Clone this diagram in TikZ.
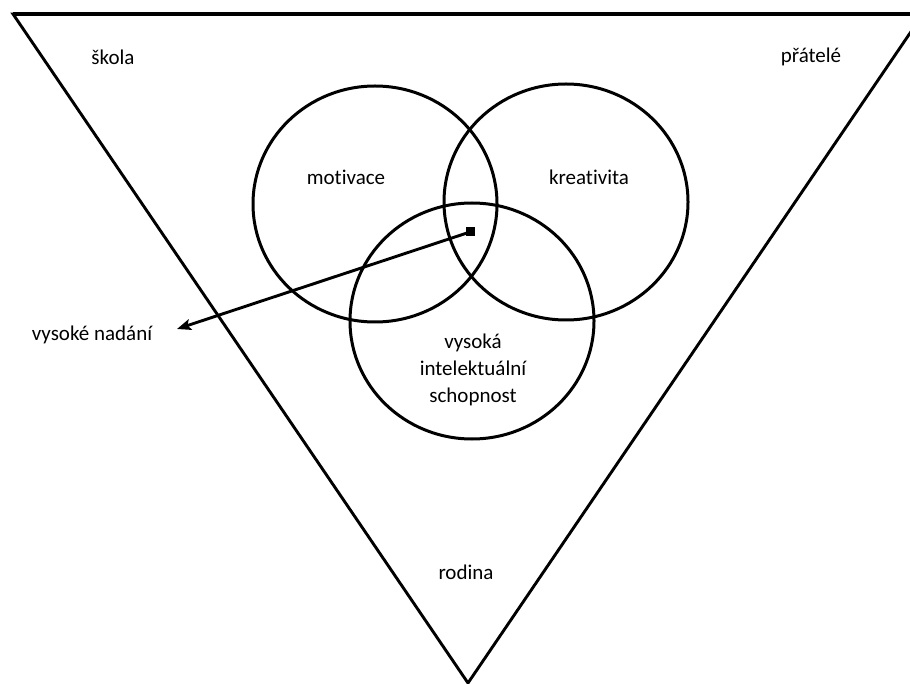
\documentclass[tikz,border=0pt]{standalone}
\usepackage{fontspec}
\setmainfont{Carlito}[Ligatures={NoCommon}]
\usetikzlibrary{shapes.geometric,arrows.meta}
\begin{document}
\begin{tikzpicture}[x=1pt,y=-1pt,
  ring/.style={draw, ellipse, minimum width=244pt, minimum height=236pt, inner sep=0pt, line width=3pt},
  lbl/.style={font=\fontsize{21}{27}\selectfont, text=black, inner sep=0pt, align=center},
  edge/.style={line width=2.9pt}]
\useasboundingbox (0,0) rectangle (910,684);
\fill[white] (0,0) rectangle (910,684);
% triangle
\coordinate (tl) at (13,14);
\coordinate (tr) at (923,14);
\coordinate (ap) at (468,683);
\draw[edge, line join=miter] (tl) -- (tr) -- (ap) -- cycle;
\draw[line width=3.8pt] (tl) -- (tr);
% circles
\node[ring] (mot) at (375,204) {};
\node[ring] (kre) at (566,202) {};
\node[ring] (int) at (472,321) {};
% labels
\node[lbl] (skola) at (113,57) {škola};
\node[lbl] (prat) at (811,57) {přátelé};
\node[lbl] (motl) at (346,177) {motivace};
\node[lbl] (krel) at (589,177) {kreativita};
\node[lbl] (intl) at (473,370) {vysoká\\intelektuální\\schopnost};
\node[lbl] (rod) at (466,572) {rodina};
\node[lbl] (nad) at (92,335) {vysoké nadání};
% marker and arrow
\node[fill=black, minimum size=9pt, inner sep=0pt] (sq) at (470,232) {};
\coordinate (tip) at (177,329);
\draw[edge, -{Stealth[length=14pt,width=11pt,inset=3pt]}] (sq.center) -- (tip);
\end{tikzpicture}
\end{document}
